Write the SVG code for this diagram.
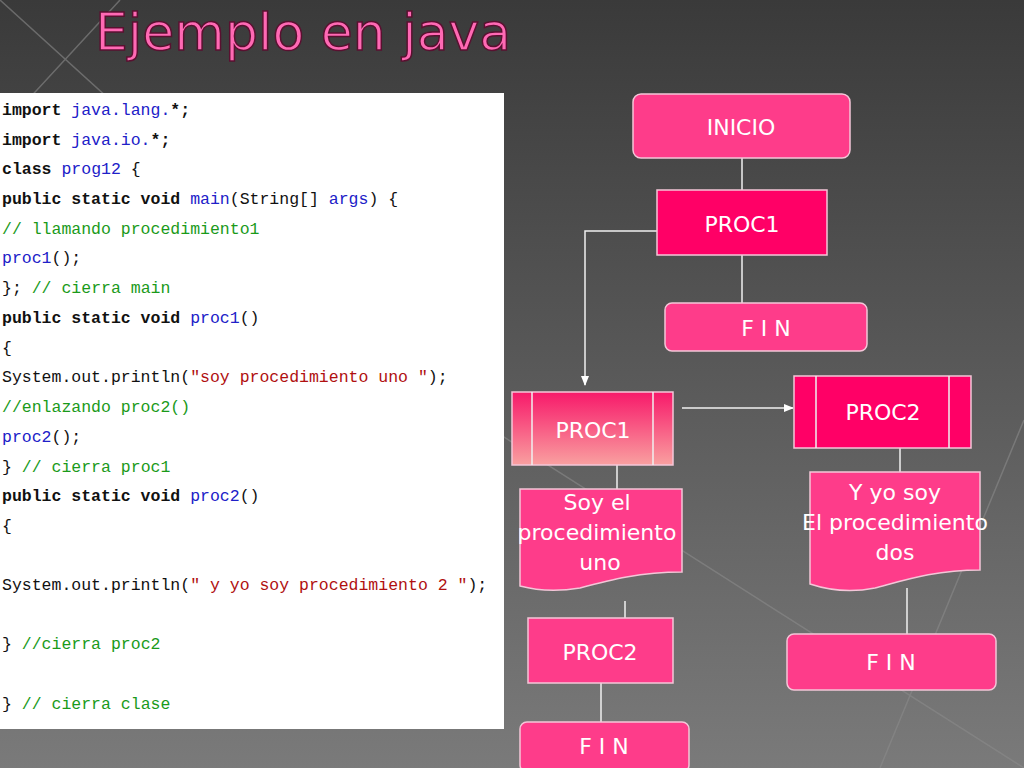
<svg xmlns="http://www.w3.org/2000/svg" width="1024" height="768" viewBox="0 0 1024 768">
<defs>
<linearGradient id="bg" x1="0" y1="0" x2="0" y2="1"><stop offset="0" stop-color="#3a3a3a"/><stop offset="0.5" stop-color="#5a5a5a"/><stop offset="1" stop-color="#7a7a7a"/></linearGradient>
<linearGradient id="p1" x1="0" y1="0" x2="0" y2="1"><stop offset="0" stop-color="#f7196a"/><stop offset="1" stop-color="#f9a0a0"/></linearGradient>
<marker id="ah" markerWidth="10" markerHeight="10" refX="9" refY="5" orient="auto" markerUnits="userSpaceOnUse"><path d="M0,1 L10,5 L0,9 z" fill="#fff"/></marker>
<style>
.n{fill:#fe3c8a;stroke:#f4c6d8;stroke-width:1.5}
.d{fill:#ff0066;stroke:#f4c6d8;stroke-width:1.5}
.t{font-family:"DejaVu Sans","Liberation Sans",sans-serif;font-size:22px;fill:#fff;text-anchor:middle}
.c{font-family:"Liberation Mono",monospace;font-size:16.5px;font-weight:bold}
.k{fill:#111}.b{fill:#2020c8;font-weight:normal}.g{fill:#1a9a1a;font-weight:normal}.r{fill:#b01010;font-weight:normal}
.l{stroke:#f0f0f0;stroke-width:1.5;fill:none}
</style>
</defs>
<rect width="1024" height="768" fill="url(#bg)"/>
<path d="M0,130 L120,0 M0,0 L430,390 L1024,768 M1024,420 L880,768" stroke="#8a8a8a" stroke-width="1.5" fill="none" opacity="0.6"/>
<text x="95" y="50" font-family="DejaVu Sans,sans-serif" font-size="52" fill="#ff69b4" stroke="#5a1030" stroke-width="1.5">Ejemplo en java</text>
<rect x="0" y="93" width="504" height="636" fill="#fff"/>
<g class="c" xml:space="preserve">
<text x="2" y="115"><tspan class="k">import </tspan><tspan class="b">java.lang.</tspan><tspan class="k">*;</tspan></text>
<text x="2" y="145"><tspan class="k">import </tspan><tspan class="b">java.io.</tspan><tspan class="k">*;</tspan></text>
<text x="2" y="174"><tspan class="k">class </tspan><tspan class="b">prog12</tspan><tspan class="k" font-weight="normal"> {</tspan></text>
<text x="2" y="204"><tspan class="k">public static void </tspan><tspan class="b">main</tspan><tspan class="k" font-weight="normal">(String[] </tspan><tspan class="b">args</tspan><tspan class="k" font-weight="normal">) {</tspan></text>
<text x="2" y="234"><tspan class="g">// llamando procedimiento1</tspan></text>
<text x="2" y="263"><tspan class="b">proc1</tspan><tspan class="k" font-weight="normal">();</tspan></text>
<text x="2" y="293"><tspan class="k" font-weight="normal">}; </tspan><tspan class="g">// cierra main</tspan></text>
<text x="2" y="323"><tspan class="k">public static void </tspan><tspan class="b">proc1</tspan><tspan class="k" font-weight="normal">()</tspan></text>
<text x="2" y="353"><tspan class="k" font-weight="normal">{</tspan></text>
<text x="2" y="382"><tspan class="k" font-weight="normal">System.out.println(</tspan><tspan class="r">"soy procedimiento uno "</tspan><tspan class="k" font-weight="normal">);</tspan></text>
<text x="2" y="412"><tspan class="g">//enlazando proc2()</tspan></text>
<text x="2" y="442"><tspan class="b">proc2</tspan><tspan class="k" font-weight="normal">();</tspan></text>
<text x="2" y="472"><tspan class="k" font-weight="normal">} </tspan><tspan class="g">// cierra proc1</tspan></text>
<text x="2" y="501"><tspan class="k">public static void </tspan><tspan class="b">proc2</tspan><tspan class="k" font-weight="normal">()</tspan></text>
<text x="2" y="531"><tspan class="k" font-weight="normal">{</tspan></text>
<text x="2" y="590"><tspan class="k" font-weight="normal">System.out.println(</tspan><tspan class="r">" y yo soy procedimiento 2 "</tspan><tspan class="k" font-weight="normal">);</tspan></text>
<text x="2" y="649"><tspan class="k" font-weight="normal">} </tspan><tspan class="g">//cierra proc2</tspan></text>
<text x="2" y="709"><tspan class="k" font-weight="normal">} </tspan><tspan class="g">// cierra clase</tspan></text>
</g>
<g id="connectors">
<path class="l" d="M742,158 V190 M742,255 V303 M617,465 V489 M900,448 V472 M625,601 V618 M601,683 V722 M907,588 V634"/>
<path class="l" d="M657,231 H585 V385" marker-end="url(#ah)"/>
<path class="l" d="M682,408 H793" marker-end="url(#ah)"/>
</g>
<g id="inicio"><rect class="n" x="633" y="94" width="217" height="64" rx="8"/><text class="t" x="741" y="135">INICIO</text></g>
<g id="proc1"><rect class="d" x="657" y="190" width="170" height="65"/><text class="t" x="742" y="232">PROC1</text></g>
<g id="fin1"><rect class="n" x="665" y="303" width="202" height="48" rx="7"/><text class="t" x="766" y="336">F I N</text></g>
<g id="proc1b"><rect x="512" y="392" width="161" height="73" fill="url(#p1)" stroke="#f4c6d8" stroke-width="1.5"/><path class="l" d="M532,392 V465 M653,392 V465"/><text class="t" x="593" y="438">PROC1</text></g>
<g id="proc2b"><rect class="d" x="794" y="376" width="177" height="72"/><path class="l" d="M816,376 V448 M949,376 V448"/><text class="t" x="883" y="420">PROC2</text></g>
<g id="doc1"><path class="n" d="M520,489 H682 V572 C640,572 610,580 580,588 C555,592 535,590 520,586 Z"/><text class="t" x="597" y="510">Soy el</text><text class="t" x="597" y="540">procedimiento</text><text class="t" x="600" y="570">uno</text></g>
<g id="doc2"><path class="n" d="M810,472 H980 V570 C935,570 905,580 875,588 C850,593 828,590 810,584 Z"/><text class="t" x="895" y="500">Y yo soy</text><text class="t" x="895" y="530">El procedimiento</text><text class="t" x="895" y="560">dos</text></g>
<g id="proc2c"><rect class="n" x="528" y="618" width="145" height="65"/><text class="t" x="600" y="660">PROC2</text></g>
<g id="fin2"><rect class="n" x="520" y="722" width="169" height="50" rx="7"/><text class="t" x="604" y="754">F I N</text></g>
<g id="fin3"><rect class="n" x="787" y="634" width="209" height="56" rx="7"/><text class="t" x="891" y="670">F I N</text></g>
</svg>
